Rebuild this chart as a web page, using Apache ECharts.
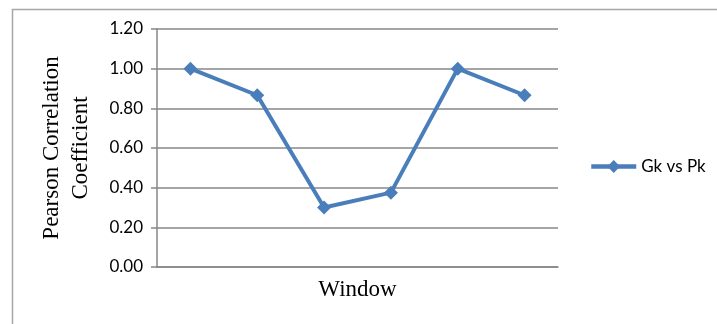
<!DOCTYPE html>
<html>
<head>
<meta charset="utf-8">
<script src="https://cdn.jsdelivr.net/npm/echarts@6/dist/echarts.min.js"></script>
<style>
	html, body { margin: 0; padding: 0; background: #fff; }
	#main { width: 717px; height: 324px; }
</style>
</head>
<body>
<div id="main"></div>
<script>
var windows = ['1', '2', '3', '4', '5', '6'];
var gkVsPk = [1.00, 0.866, 0.30, 0.375, 1.00, 0.866];
var seriesName = 'Gk vs Pk';

var chart = echarts.init(document.getElementById('main'));
var option = {
	animation : false,
	graphic : [ {
		type : 'rect',
		left : 10,
		top : 7,
		shape : { width : 800, height : 400 },
		style : { fill : 'none', stroke : '#a6a6a6', lineWidth : 1.5 }
	} ],
	grid : {
		left : 157,
		right : 159,
		top : 29,
		bottom : 57
	},
	legend : {
		data : [ {
			name : seriesName,
			lineStyle : { width : 4.5 }
		} ],
		left : 589,
		top : 158,
		padding : 0,
		itemWidth : 45,
		itemHeight : 16,
		itemGap : 4,
		textStyle : {
			fontFamily : 'Lato',
			fontSize : 17,
			color : '#000'
		}
	},
	xAxis : {
		type : 'category',
		data : windows,
		name : 'Window',
		nameLocation : 'middle',
		nameGap : 11,
		nameTextStyle : {
			fontFamily : 'Liberation Serif',
			fontSize : 23,
			color : '#000'
		},
		axisLine : { lineStyle : { color : '#878787', width : 1.5 } },
		axisTick : { show : false },
		axisLabel : { show : false }
	},
	yAxis : {
		type : 'value',
		min : 0,
		max : 1.2,
		interval : 0.2,
		name : 'Pearson Correlation\nCoefficient',
		nameLocation : 'middle',
		nameGap : 62,
		nameTextStyle : {
			fontFamily : 'Liberation Serif',
			fontSize : 23,
			lineHeight : 29,
			color : '#000'
		},
		axisLine : { show : true, lineStyle : { color : '#878787', width : 1.5 } },
		axisTick : { show : true, length : 6, lineStyle : { color : '#878787', width : 1.5 } },
		splitLine : { lineStyle : { color : '#878787', width : 1.5 } },
		axisLabel : {
			margin : 14,
			fontFamily : 'Lato',
			fontSize : 17,
			color : '#000',
			formatter : function(v) { return v.toFixed(2); }
		}
	},
	series : [ {
		name : seriesName,
		type : 'line',
		data : gkVsPk,
		symbol : 'diamond',
		symbolSize : 14,
		lineStyle : { color : '#4a7ebb', width : 4 },
		itemStyle : { color : '#4a7ebb' }
	} ]
};
chart.setOption(option);
</script>
</body>
</html>
